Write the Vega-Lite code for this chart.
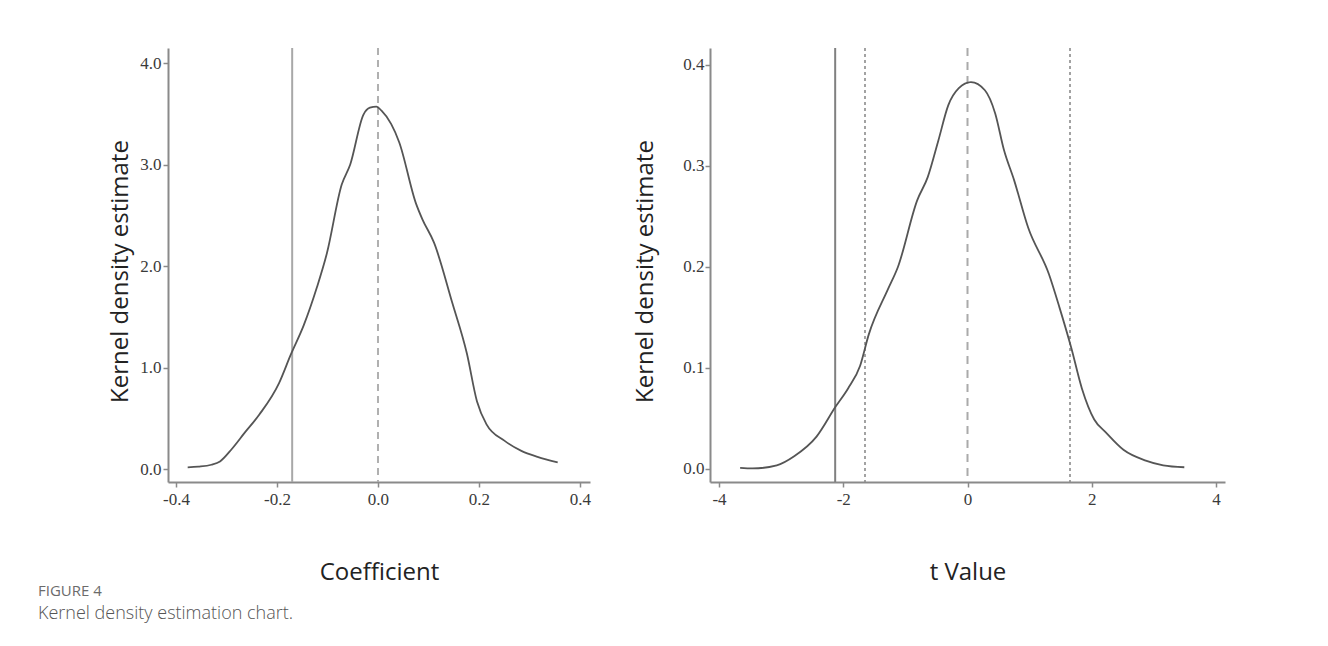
{
  "$schema": "https://vega.github.io/schema/vega-lite/v6.json",
  "background": "white",
  "padding": {"left": 38, "top": 47, "right": 5, "bottom": 5},
  "autosize": "pad",
  "bounds": "flush",
  "spacing": 120,
  "config": {
    "view": {"stroke": null},
    "axis": {
      "grid": false,
      "domainColor": "#8a8a8a",
      "domainWidth": 2,
      "tickColor": "#8a8a8a",
      "tickWidth": 1.5,
      "tickSize": 5,
      "labelFont": "Liberation Serif",
      "labelFontSize": 17,
      "labelColor": "#3a3a3a",
      "titleFont": "Open Sans",
      "titleFontSize": 24,
      "titleFontWeight": "normal",
      "titleColor": "#222222"
    }
  },
  "title": {
    "text": "FIGURE 4",
    "subtitle": "Kernel density estimation chart.",
    "orient": "bottom",
    "anchor": "start",
    "frame": "group",
    "dx": -130,
    "offset": 0,
    "baseline": "top",
    "font": "Open Sans",
    "fontSize": 15,
    "fontWeight": "normal",
    "color": "#6b6b6b",
    "subtitleFont": "Open Sans",
    "subtitleFontSize": 18,
    "subtitleFontWeight": 300,
    "subtitleColor": "#555555",
    "subtitlePadding": 6
  },
  "hconcat": [
    {
      "width": 422,
      "height": 434,
      "encoding": {
        "x": {
          "field": "x",
          "type": "quantitative",
          "scale": {"domain": [-0.416, 0.42], "nice": false, "zero": false},
          "axis": {
            "title": "Coefficient",
            "values": [-0.4, -0.2, 0, 0.2, 0.4],
            "format": ".1f",
            "labelExpr": "replace(datum.label, '−', '-')",
            "labelPadding": 4,
            "titleY": 90,
            "titleBaseline": "middle"
          }
        }
      },
      "layer": [
        {
          "data": {"values": [{"x": -0.17}]},
          "mark": {"type": "rule", "color": "#a8a8a8", "strokeWidth": 2}
        },
        {
          "data": {"values": [{"x": 0}]},
          "mark": {"type": "rule", "color": "#b0b0b0", "strokeWidth": 2, "strokeDash": [7, 5]}
        },
        {
          "data": {"values": [
            {"x": -0.377, "y": 0.016},
            {"x": -0.356, "y": 0.023},
            {"x": -0.330, "y": 0.042},
            {"x": -0.313, "y": 0.075},
            {"x": -0.290, "y": 0.195},
            {"x": -0.264, "y": 0.358},
            {"x": -0.235, "y": 0.537},
            {"x": -0.196, "y": 0.847},
            {"x": -0.173, "y": 1.124},
            {"x": -0.147, "y": 1.417},
            {"x": -0.121, "y": 1.79},
            {"x": -0.101, "y": 2.13},
            {"x": -0.072, "y": 2.80},
            {"x": -0.055, "y": 3.00},
            {"x": -0.029, "y": 3.49},
            {"x": -0.016, "y": 3.56},
            {"x": -0.003, "y": 3.57},
            {"x": 0.007, "y": 3.53},
            {"x": 0.026, "y": 3.40},
            {"x": 0.042, "y": 3.22},
            {"x": 0.075, "y": 2.62},
            {"x": 0.088, "y": 2.46},
            {"x": 0.111, "y": 2.23},
            {"x": 0.147, "y": 1.64},
            {"x": 0.176, "y": 1.14},
            {"x": 0.196, "y": 0.668},
            {"x": 0.215, "y": 0.44},
            {"x": 0.251, "y": 0.277},
            {"x": 0.284, "y": 0.179},
            {"x": 0.316, "y": 0.12},
            {"x": 0.356, "y": 0.065}
          ]},
          "mark": {"type": "line", "color": "#555555", "strokeWidth": 1.8, "interpolate": "monotone"},
          "encoding": {
            "y": {
              "field": "y",
              "type": "quantitative",
              "scale": {"domain": [-0.128, 4.148], "nice": false, "zero": false},
              "axis": {
                "title": "Kernel density estimate",
                "values": [0, 1, 2, 3, 4],
                "format": ".1f",
                "labelPadding": 2,
                "titleX": -48,
                "titleY": 223,
                "titleBaseline": "middle"
              }
            }
          }
        }
      ]
    },
    {
      "width": 515,
      "height": 434,
      "encoding": {
        "x": {
          "field": "x",
          "type": "quantitative",
          "scale": {"domain": [-4.145, 4.145], "nice": false, "zero": false},
          "axis": {
            "title": "t Value",
            "values": [-4, -2, 0, 2, 4],
            "format": "d",
            "labelExpr": "replace(datum.label, '−', '-')",
            "labelPadding": 4,
            "titleY": 90,
            "titleBaseline": "middle"
          }
        }
      },
      "layer": [
        {
          "data": {"values": [{"x": -2.13}]},
          "mark": {"type": "rule", "color": "#808080", "strokeWidth": 2}
        },
        {
          "data": {"values": [{"x": -1.65}, {"x": 1.65}]},
          "mark": {"type": "rule", "color": "#8c8c8c", "strokeWidth": 1.6, "strokeDash": [3, 3]}
        },
        {
          "data": {"values": [{"x": 0}]},
          "mark": {"type": "rule", "color": "#aaaaaa", "strokeWidth": 2, "strokeDash": [8, 6]}
        },
        {
          "data": {"values": [
            {"x": -3.66, "y": 0.001},
            {"x": -3.46, "y": 0.0005},
            {"x": -3.07, "y": 0.0036},
            {"x": -2.79, "y": 0.0126},
            {"x": -2.43, "y": 0.032},
            {"x": -2.12, "y": 0.062},
            {"x": -1.92, "y": 0.080},
            {"x": -1.73, "y": 0.102},
            {"x": -1.59, "y": 0.133},
            {"x": -1.28, "y": 0.178},
            {"x": -1.12, "y": 0.200},
            {"x": -0.81, "y": 0.266},
            {"x": -0.64, "y": 0.289},
            {"x": -0.47, "y": 0.325},
            {"x": -0.31, "y": 0.360},
            {"x": -0.14, "y": 0.377},
            {"x": 0.056, "y": 0.383},
            {"x": 0.28, "y": 0.375},
            {"x": 0.446, "y": 0.352},
            {"x": 0.586, "y": 0.316},
            {"x": 0.75, "y": 0.286},
            {"x": 0.976, "y": 0.239},
            {"x": 1.31, "y": 0.193},
            {"x": 1.48, "y": 0.160},
            {"x": 1.67, "y": 0.120},
            {"x": 1.84, "y": 0.080},
            {"x": 2.04, "y": 0.049},
            {"x": 2.23, "y": 0.036},
            {"x": 2.51, "y": 0.019},
            {"x": 2.87, "y": 0.0083},
            {"x": 3.15, "y": 0.0036},
            {"x": 3.49, "y": 0.0017}
          ]},
          "mark": {"type": "line", "color": "#555555", "strokeWidth": 1.8, "interpolate": "monotone"},
          "encoding": {
            "y": {
              "field": "y",
              "type": "quantitative",
              "scale": {"domain": [-0.0129, 0.4168], "nice": false, "zero": false},
              "axis": {
                "title": "Kernel density estimate",
                "values": [0, 0.1, 0.2, 0.3, 0.4],
                "format": ".1f",
                "labelPadding": 1,
                "titleX": -65,
                "titleY": 223,
                "titleBaseline": "middle"
              }
            }
          }
        }
      ]
    }
  ]
}
